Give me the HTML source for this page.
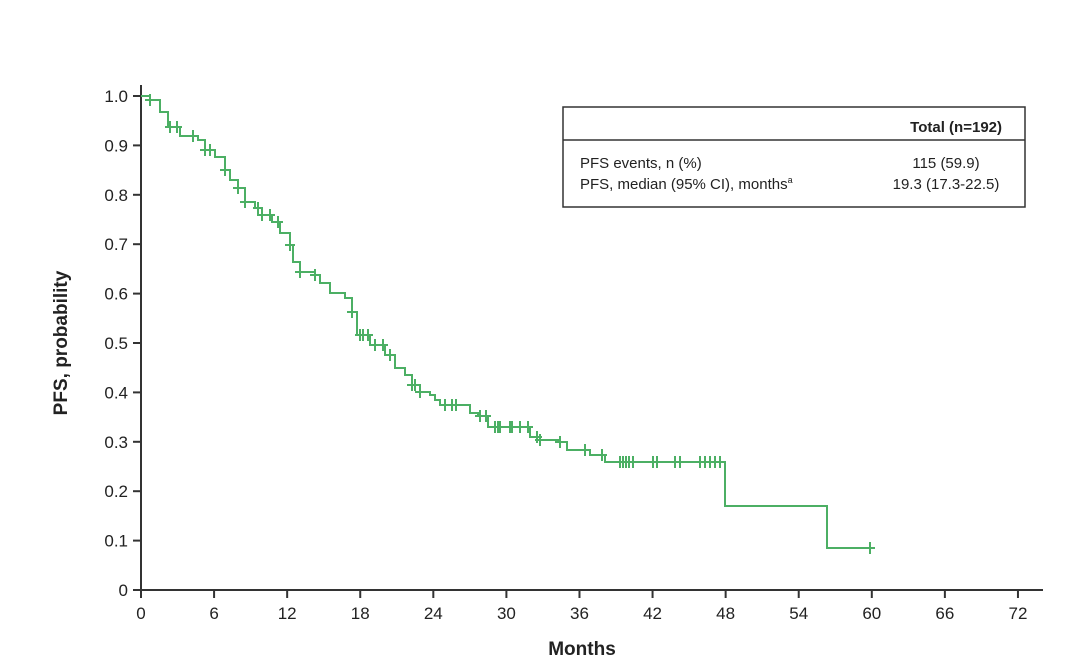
<!DOCTYPE html>
<html><head><meta charset="utf-8"><style>
body{margin:0;background:#fff;}
svg text{font-family:"Liberation Sans",Arial,sans-serif;fill:#222;}
</style></head><body>
<svg id="s" width="1080" height="667" viewBox="0 0 1080 667" xmlns="http://www.w3.org/2000/svg">
<g stroke="#333" stroke-width="2" fill="none">
<line x1="141" y1="85" x2="141" y2="591"/>
<line x1="140" y1="590" x2="1043" y2="590"/>
</g>
<g id="ticks" stroke="#333" stroke-width="2"></g>
<g id="labels" font-size="17" text-anchor="end"></g>
<g id="xl" font-size="17" text-anchor="middle"></g>
<text x="582" y="655" font-size="19" font-weight="bold" text-anchor="middle">Months</text>
<text transform="translate(67,343) rotate(-90)" font-size="19" font-weight="bold" text-anchor="middle">PFS, probability</text>
<rect x="563" y="107" width="462" height="100" fill="none" stroke="#333" stroke-width="1.5"/>
<line x1="563" y1="140" x2="1025" y2="140" stroke="#333" stroke-width="1.5"/>
<text x="1002" y="132" font-size="15" font-weight="bold" text-anchor="end">Total (n=192)</text>
<text x="580" y="168" font-size="15">PFS events, n (%)</text>
<text x="580" y="189" font-size="15">PFS, median (95% CI), months<tspan font-size="9" dy="-6">a</tspan></text>
<text x="946" y="168" font-size="15" text-anchor="middle">115 (59.9)</text>
<text x="946" y="189" font-size="15" text-anchor="middle">19.3 (17.3-22.5)</text>
<path id="curve" fill="none" stroke="#4caf64" stroke-width="2"/>
<g id="cens" stroke="#4caf64" stroke-width="2"></g>
</svg>
<script>
var NS="http://www.w3.org/2000/svg";
function el(t,a,p,txt){var e=document.createElementNS(NS,t);for(var k in a)e.setAttribute(k,a[k]);if(txt!=null)e.textContent=txt;document.getElementById(p).appendChild(e);}
for(var i=0;i<=10;i++){var y=590-49.4*i;el('line',{x1:133,y1:y,x2:141,y2:y},'ticks');el('text',{x:128,y:y+6},'labels',i==0?'0':(i/10).toFixed(1));}
for(var m=0;m<=72;m+=6){var x=141+12.18*m;el('line',{x1:x,y1:590,x2:x,y2:598},'ticks');el('text',{x:x,y:619},'xl',m);}
var P=[[141,96],[150,100],[160,112],[168,127],[180,136],[198,140],[205,150],[215,157],[225,170],[230,180],[238,188],[245,202],[255,208],[262,215],[272,222],[280,233],[290,245],[293,262],[300,272],[315,275],[320,283],[330,293],[345,298],[352,312],[357,335],[370,345],[385,355],[395,368],[405,375],[412,385],[420,392],[430,395],[435,400],[440,405],[455,405],[470,413],[478,416],[488,427],[518,427],[530,437],[540,440],[560,442],[567,450],[585,450],[590,455],[602,455],[605,462],[725,462],[725,506],[827,506],[827,548],[870,548]];
var d='M'+P[0][0]+' '+P[0][1];
for(var i=1;i<P.length;i++){d+=' H'+P[i][0]+' V'+P[i][1];}
document.getElementById('curve').setAttribute('d',d);
function yAt(x){var y=P[0][1];for(var i=0;i<P.length;i++){if(P[i][0]<=x)y=P[i][1];}return y;}
var C=[150,170,177,193,205,210,225,238,245,258,262,270,278,290,300,315,352,360,363,368,375,383,390,412,415,420,445,452,456,480,486,495,498,500,510,512,520,528,537,540,560,585,602,620,623,626,629,633,653,657,675,680,700,705,710,715,720,870];
C.forEach(function(x){var y=yAt(x);el('line',{x1:x-5,y1:y,x2:x+5,y2:y},'cens');el('line',{x1:x,y1:y-6,x2:x,y2:y+6},'cens');});
</script>
</body></html>
